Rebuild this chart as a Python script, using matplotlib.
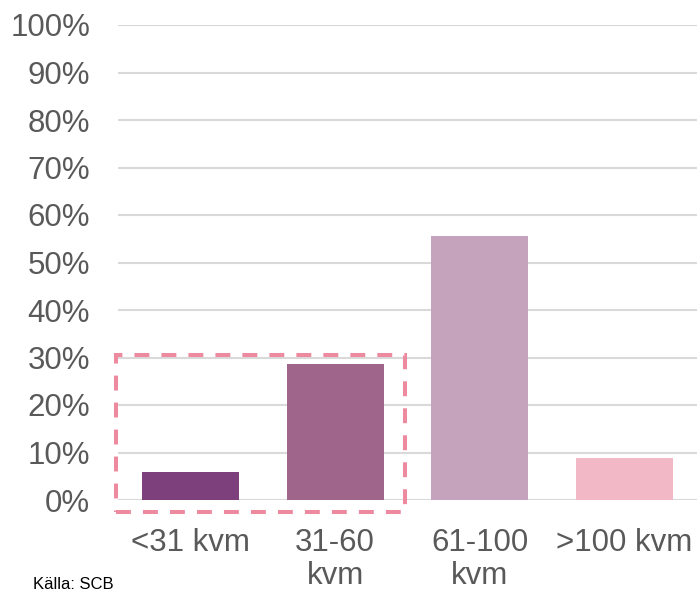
import matplotlib
matplotlib.use("Agg")
import matplotlib.pyplot as plt
from matplotlib.patches import Rectangle
from matplotlib.ticker import PercentFormatter

categories = ["<31 kvm", "31-60\nkvm", "61-100\nkvm", ">100 kvm"]
values = [5.9, 28.6, 55.6, 8.8]
colors = ["#7E3F7D", "#A0658B", "#C6A3BC", "#F2B8C6"]
yticks = [0, 10, 20, 30, 40, 50, 60, 70, 80, 90, 100]

plt.rcParams['font.family'] = ['Liberation Sans', 'DejaVu Sans']

fig = plt.figure(figsize=(6.97, 5.91), dpi=100)
ax = fig.add_axes([118/697, 1 - 500/591, 1 - 118/697, (500 - 25)/591])

x = list(range(len(categories)))
ax.bar(x, values, width=0.67, color=colors, zorder=3)

ax.set_xlim(-0.5, len(categories) - 0.5)
ax.set_ylim(0, 100)
ax.set_yticks(yticks)
ax.yaxis.set_major_formatter(PercentFormatter(decimals=0))
ax.set_xticks(x)
ax.set_xticklabels(categories, linespacing=1.12)
ax.tick_params(axis='y', length=0, pad=20, labelsize=22.5, labelcolor="#595959")
ax.tick_params(axis='x', length=0, pad=20, labelsize=22.5, labelcolor="#595959")
ax.grid(axis='y', color="#D9D9D9", linewidth=1.5, zorder=0)
ax.set_axisbelow(True)
for s in ax.spines.values():
    s.set_visible(False)

rect = Rectangle((-0.514, -2.5), 1.999, 33.0, fill=False, edgecolor="#EE8AA0",
                 linewidth=2.9, linestyle=(0, (3.7, 3.0)), clip_on=False, zorder=4)
ax.add_patch(rect)

fig.text(33/697, 1 - 577/591, "Källa: SCB", fontsize=12, color="#000000", va='top', ha='left')

fig.savefig("out.png", dpi=100)
